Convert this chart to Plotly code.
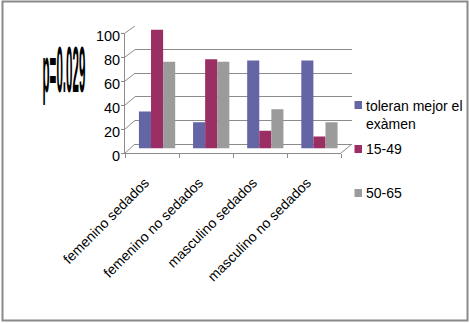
import plotly.graph_objects as go

# ---- data ----
categories = ["femenino sedados", "femenino no sedados", "masculino sedados", "masculino no sedados"]
series_names = ["toleran mejor el<br>exàmen", "15-49", "50-65"]
toleran = [31, 22, 74, 74]
edad_15_49 = [100, 75, 15, 10]
edad_50_65 = [73, 73, 33, 22]
y_ticks = [0, 20, 40, 60, 80, 100]
p_label = "p=0.029"

series_values = [toleran, edad_15_49, edad_50_65]
colors = ["#6465a4", "#9b2e63", "#9b9b9b"]

W, H = 470, 323
FONT = "Liberation Sans, Arial, sans-serif"
GRID = "#8c8c8c"


def px(x):
    return x / W


def py(y):
    return 1 - y / H


# three depth planes of the pseudo-3D box: back wall, front edge, middle (bars)
back_x, back_y = (135, 352), (144, 26)
front_x, front_y = (125, 341), (153, 33)
mid_x, mid_y = (130, 346.5), (148.5, 29.5)

fig = go.Figure()

# empty carriers so the wall (x/y) and front (x2/y2) axes get drawn
for xa, ya in (("x", "y"), ("x2", "y2")):
    fig.add_trace(go.Scatter(x=[], y=[], mode="markers", xaxis=xa, yaxis=ya,
                             showlegend=False, hoverinfo="skip"))

# bars sit on the middle plane (x3/y3)
for name, vals, col in zip(series_names, series_values, colors):
    fig.add_trace(go.Bar(
        x=categories, y=vals, name=name.replace("<br>", " "),
        marker=dict(color=col, line=dict(width=0)),
        xaxis="x3", yaxis="y3", showlegend=False,
    ))

n = len(categories)
idx = list(range(n))
slot_range = [-0.5, n - 0.5]
hidden = dict(showgrid=False, zeroline=False, showticklabels=False,
              showline=False, ticks="", automargin=False, fixedrange=True)

fig.update_layout(
    width=W, height=H,
    margin=dict(l=0, r=0, t=0, b=0),
    template="none",
    paper_bgcolor="white",
    plot_bgcolor="rgba(0,0,0,0)",
    font=dict(family=FONT, size=14, color="black"),
    barmode="group", bargap=0.33, bargroupgap=0,
    # back wall: gridlines only
    xaxis=dict(domain=[px(back_x[0]), px(back_x[1])], type="linear",
               range=slot_range, anchor="y", **hidden),
    yaxis=dict(domain=[py(back_y[0]), py(back_y[1])], range=[0, 100], anchor="x",
               type="linear", tickmode="array", tickvals=y_ticks,
               showgrid=True, gridcolor=GRID, gridwidth=1,
               zeroline=True, zerolinecolor=GRID, zerolinewidth=1,
               showticklabels=False, showline=False, ticks="", automargin=False),
    # front edge: axis lines, ticks and labels
    xaxis2=dict(domain=[px(front_x[0]), px(front_x[1])], type="linear",
                range=slot_range, anchor="y2",
                tickmode="array", tickvals=idx, ticktext=categories,
                showline=True, linecolor=GRID, linewidth=1, showgrid=False, zeroline=False,
                ticks="", tickangle=-45, tickfont=dict(size=14, color="black"),
                ticklabelstandoff=15, ticklabelshift=-7,
                minor=dict(tickmode="linear", tick0=-0.5, dtick=1, ticks="outside",
                           ticklen=4, tickcolor=GRID, showgrid=False),
                automargin=False),
    yaxis2=dict(domain=[py(front_y[0]), py(front_y[1])], range=[0, 100], anchor="x2",
                type="linear", tickmode="array", tickvals=y_ticks,
                showline=True, linecolor=GRID, linewidth=1,
                showgrid=False, zeroline=False, ticks="outside", ticklen=3, tickcolor=GRID,
                ticklabelstandoff=-2, ticklabelshift=3,
                tickfont=dict(size=14.5, color="black"), automargin=False),
    # middle plane: bars
    xaxis3=dict(domain=[px(mid_x[0]), px(mid_x[1])], type="category",
                categoryarray=categories, categoryorder="array",
                range=slot_range, anchor="y3", **hidden),
    yaxis3=dict(domain=[py(mid_y[0]), py(mid_y[1])], range=[0, 100], anchor="x3",
                **hidden),
)

shapes = []
# side-wall diagonals joining each front tick to its back gridline
for v in y_ticks:
    yf = front_y[0] + (front_y[1] - front_y[0]) * v / 100
    yb = back_y[0] + (back_y[1] - back_y[0]) * v / 100
    shapes.append(dict(type="line", xref="paper", yref="paper",
                       x0=px(front_x[0]), y0=py(yf), x1=px(back_x[0]), y1=py(yb),
                       line=dict(color=GRID, width=1)))
# right edge of the floor
shapes.append(dict(type="line", xref="paper", yref="paper",
                   x0=px(front_x[1]), y0=py(front_y[0]), x1=px(back_x[1]), y1=py(back_y[0]),
                   line=dict(color=GRID, width=1)))
# outer frame
shapes.append(dict(type="rect", xref="paper", yref="paper",
                   x0=px(2.5), y0=py(320.5), x1=px(467.5), y1=py(1.5),
                   line=dict(color="#8a8a8a", width=2)))

# legend: colour keys and labels
legend_rows = [115, 149, 193]
key_rows = [105, 149, 193]
annotations = []
for name, col, yr, yk in zip(series_names, colors, legend_rows, key_rows):
    shapes.append(dict(type="rect", xref="paper", yref="paper",
                       x0=px(354.5), x1=px(362), y0=py(yk + 4), y1=py(yk - 4),
                       fillcolor=col, line=dict(width=0)))
    annotations.append(dict(text=name, xref="paper", yref="paper",
                            x=px(364), y=py(yr), xanchor="left", yanchor="middle",
                            align="left", showarrow=False,
                            font=dict(size=14, color="black", family=FONT)))

# p-value label, condensed by the post script below
annotations.append(dict(text=p_label, xref="paper", yref="paper",
                        x=px(63.5), y=py(69.5), xanchor="center", yanchor="middle",
                        showarrow=False,
                        font=dict(size=20, color="black", family=FONT, weight="bold")))

fig.update_layout(shapes=shapes, annotations=annotations)

post = """
(function(){
  var gd = document.getElementById('{plot_id}');
  function squeeze(){
    gd.querySelectorAll('.annotation-text').forEach(function(t){
      if (t.textContent === '%s') {
        t.style.transformBox = 'fill-box';
        t.style.transformOrigin = 'center';
        t.style.transform = 'scale(0.58, 3.25)';
      }
    });
  }
  squeeze();
  setTimeout(squeeze, 30);
})();
""" % p_label

fig.write_html("out.html", post_script=post)
